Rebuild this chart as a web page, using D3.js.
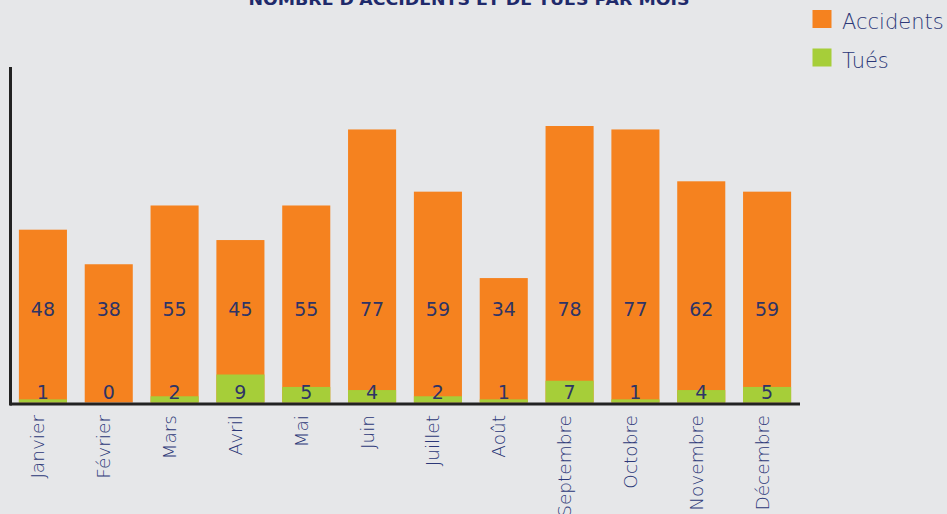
<!DOCTYPE html>
<html><head><meta charset="utf-8">
<script src="https://cdn.jsdelivr.net/npm/d3@7"></script>
<style>
html,body{margin:0;padding:0;background:#e6e7e9;}
svg{display:block;}
</style></head>
<body>
<svg id="chart" width="947" height="514"></svg>
<script>
const months = ["Janvier","Février","Mars","Avril","Mai","Juin","Juillet","Août","Septembre","Octobre","Novembre","Décembre"];
const accidents = [48,38,55,45,55,77,59,34,78,77,62,59];
const tues = [1,0,2,9,5,4,2,1,7,1,4,5];
const seriesNames = ["Accidents","Tués"];
const title = "NOMBRE D'ACCIDENTS ET DE TUÉS PAR MOIS";

const orange = "#f5821f", green = "#a6ce39", navy = "#2e3466", labelCol = "#2c3878";
const font = "'DejaVu Sans', sans-serif";
const lightFont = "'DejaVu Sans ExtraLight', 'DejaVu Sans', sans-serif";
const svg = d3.select("#chart");
const baseY = 402.5;

const x = d3.scaleBand().domain(months).range([10, 800]).paddingInner(0.27).paddingOuter(0.135);
const yA = d3.scaleLinear().domain([-2, 78]).range([baseY, 126]);
const yT = d3.scaleLinear().domain([0, 9]).range([baseY, 374.5]);

// title
svg.append("text").attr("x", 469).attr("y", 5).attr("text-anchor", "middle")
  .attr("font-family", font).attr("font-weight", "bold").attr("font-size", 15)
  .attr("fill", "#1f2a6b").attr("textLength", 441).attr("lengthAdjust", "spacingAndGlyphs")
  .text(title);

// accidents bars
svg.selectAll(".acc").data(accidents).join("rect").attr("class", "acc")
  .attr("x", (d, i) => x(months[i])).attr("width", x.bandwidth())
  .attr("y", d => yA(d)).attr("height", d => baseY - yA(d)).attr("fill", orange);

// tués bars
svg.selectAll(".tue").data(tues).join("rect").attr("class", "tue")
  .attr("x", (d, i) => x(months[i])).attr("width", x.bandwidth())
  .attr("y", d => yT(d)).attr("height", d => baseY - yT(d)).attr("fill", green);

// accident labels
svg.selectAll(".accl").data(accidents).join("text").attr("class", "accl")
  .attr("x", (d, i) => x(months[i]) + x.bandwidth() / 2).attr("y", 315.5)
  .attr("text-anchor", "middle").attr("font-family", font).attr("font-size", 19)
  .attr("fill", navy).text(d => d);

// tues labels
svg.selectAll(".tuel").data(tues).join("text").attr("class", "tuel")
  .attr("x", (d, i) => x(months[i]) + x.bandwidth() / 2).attr("y", 398.5)
  .attr("text-anchor", "middle").attr("font-family", font).attr("font-size", 19)
  .attr("fill", navy).text(d => d);

// axes lines
const xAxis = d3.axisBottom(x).tickSize(0).tickFormat("");
svg.append("g").attr("transform", `translate(0,${baseY + 1.5})`).call(xAxis)
  .call(g => g.select(".domain").attr("stroke", "#222").attr("stroke-width", 3).attr("d", "M10,0H800"));
svg.append("line").attr("x1", 10.5).attr("x2", 10.5).attr("y1", 67).attr("y2", 405.5)
  .attr("stroke", "#222").attr("stroke-width", 3);

// month labels
svg.selectAll(".ml").data(months).join("text").attr("class", "ml")
  .attr("transform", d => `translate(${x(d) + x.bandwidth() / 2 + 1.5},415) rotate(-90)`)
  .attr("text-anchor", "end").attr("font-family", lightFont).attr("font-weight", 200)
  .attr("font-size", 18.5).attr("fill", labelCol).text(d => d);

// legend
const leg = svg.append("g");
[orange, green].forEach((c, i) => {
  leg.append("rect").attr("x", 812.5).attr("y", 10 + i * 38.5).attr("width", 19).attr("height", 18).attr("fill", c);
  leg.append("text").attr("x", 842).attr("y", 29 + i * 38.5).attr("font-family", lightFont)
    .attr("font-weight", 200).attr("font-size", 21).attr("fill", labelCol).text(seriesNames[i]);
});
</script>
</body></html>
